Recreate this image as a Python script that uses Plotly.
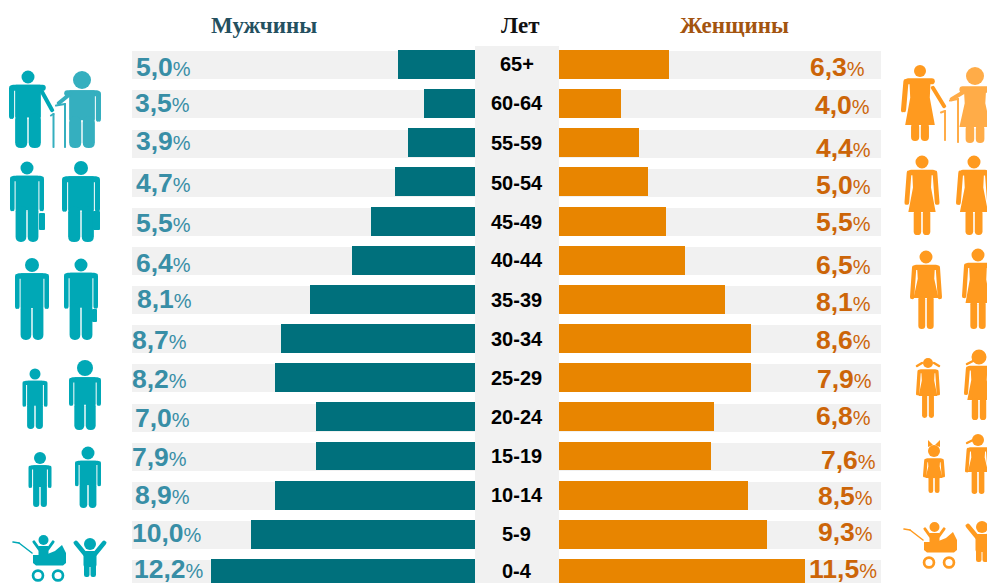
import plotly.graph_objects as go

W, H = 987, 583

# ---------- data ----------
age_groups = ["65+", "60-64", "55-59", "50-54", "45-49", "40-44", "35-39",
              "30-34", "25-29", "20-24", "15-19", "10-14", "5-9", "0-4"]
male_labels = ["5,0", "3,5", "3,9", "4,7", "5,5", "6,4", "8,1",
               "8,7", "8,2", "7,0", "7,9", "8,9", "10,0", "12,2"]
female_labels = ["6,3", "4,0", "4,4", "5,0", "5,5", "6,5", "8,1",
                 "8,6", "7,9", "6,8", "7,6", "8,5", "9,3", "11,5"]
# drawn bar lengths (they differ from the printed labels)
male_bars = [3.58, 2.37, 3.12, 3.72, 4.84, 5.72, 7.67,
             9.02, 9.30, 7.40, 7.40, 9.30, 10.42, 12.28]
female_bars = [5.12, 2.88, 3.72, 4.14, 4.98, 5.86, 7.72,
               8.93, 8.93, 7.21, 7.07, 8.79, 9.67, 11.44]
title_male, title_age, title_female = "Мужчины", "Лет", "Женщины"

# ---------- layout constants ----------
MALE_L, MALE_R, FEM_L, FEM_R = 132, 475, 559, 881
PX_PER_UNIT = 21.5
ROW0, PITCH = 64.5, 39.15
MALE_LABEL_LEFT = [136, 135, 136, 136, 136, 136, 137, 132, 132, 135, 132, 135, 132, 134]
MALE_LABEL_MID = [67, 103, 141, 183, 223, 263, 299, 340, 379, 418, 457, 495, 533, 569]
FEM_LABEL_RIGHT = [865, 870, 871, 871, 871, 871, 871, 871, 872, 871, 876, 873, 873, 877]
FEM_LABEL_MID = [67, 105, 148, 185, 222, 265, 302, 340, 379, 416, 460, 496, 532, 569]
AGE_LABEL_MID = [64, 103, 143, 183, 222, 260, 300, 339, 378, 417, 456, 495, 534, 571]

C_MALE, C_FEM = "#00707C", "#E88500"
C_STRIP = "#F1F1F1"
C_MALE_TXT, C_FEM_TXT = "#388EA6", "#CC6508"
C_MI, C_MI2 = "#00A8B6", "#35AFBF"
C_FI, C_FI2 = "#FF9A1F", "#FFAC48"

rows = list(range(len(age_groups)))
strip_rows = [r + 0.02 for r in rows]

fig = go.Figure()
fig.add_bar(y=strip_rows, x=[(MALE_R - MALE_L) / PX_PER_UNIT] * len(rows), orientation="h",
            width=0.715, marker=dict(color=C_STRIP, line_width=0), xaxis="x", yaxis="y", hoverinfo="skip")
fig.add_bar(y=strip_rows, x=[(FEM_R - FEM_L) / PX_PER_UNIT] * len(rows), orientation="h",
            width=0.715, marker=dict(color=C_STRIP, line_width=0), xaxis="x2", yaxis="y", hoverinfo="skip")
fig.add_bar(y=rows, x=male_bars, orientation="h", width=0.74,
            marker=dict(color=C_MALE, line_width=0), xaxis="x", yaxis="y", name=title_male)
fig.add_bar(y=rows, x=female_bars, orientation="h", width=0.74,
            marker=dict(color=C_FEM, line_width=0), xaxis="x2", yaxis="y", name=title_female)


# ---------- pictogram helpers (pixel coordinates -> paper) ----------
shapes = []


def P(x, y):
    return f"{x / W:.5f},{1 - y / H:.5f}"


def add_path(d, color):
    shapes.append(dict(type="path", path=d, xref="paper", yref="paper",
                       fillcolor=color, line_width=0, layer="above"))


def poly(pts, color):
    add_path("M" + " L".join(P(x, y) for x, y in pts) + " Z", color)


def rrect(x0, y0, x1, y1, r, color):
    r = min(r, (x1 - x0) / 2, (y1 - y0) / 2)
    add_path(f"M{P(x0 + r, y0)} L{P(x1 - r, y0)} Q{P(x1, y0)} {P(x1, y0 + r)} "
             f"L{P(x1, y1 - r)} Q{P(x1, y1)} {P(x1 - r, y1)} L{P(x0 + r, y1)} "
             f"Q{P(x0, y1)} {P(x0, y1 - r)} L{P(x0, y0 + r)} Q{P(x0, y0)} {P(x0 + r, y0)} Z", color)


def disc(cx, cy, r, color):
    shapes.append(dict(type="circle", xref="paper", yref="paper",
                       x0=(cx - r) / W, x1=(cx + r) / W, y0=1 - (cy + r) / H, y1=1 - (cy - r) / H,
                       fillcolor=color, line_width=0, layer="above"))


def limb(x0, y0, x1, y1, w, color):
    """Slanted limb with rounded ends."""
    dx, dy = x1 - x0, y1 - y0
    n = (dx * dx + dy * dy) ** 0.5 or 1
    ux, uy = dx / n, dy / n
    nx, ny = -uy * w / 2, ux * w / 2
    ex, ey = ux * w * 0.65, uy * w * 0.65
    add_path(f"M{P(x0 + nx, y0 + ny)} L{P(x1 + nx, y1 + ny)} "
             f"Q{P(x1 + nx + ex, y1 + ny + ey)} {P(x1 + ex * .75, y1 + ey * .75)} "
             f"Q{P(x1 - nx + ex, y1 - ny + ey)} {P(x1 - nx, y1 - ny)} "
             f"L{P(x0 - nx, y0 - ny)} Q{P(x0 - nx - ex, y0 - ny - ey)} {P(x0 - ex * .75, y0 - ey * .75)} "
             f"Q{P(x0 + nx - ex, y0 + ny - ey)} {P(x0 + nx, y0 + ny)} Z", color)


def man(cx, hy, r, hw, bottom, color, skip="", arm_end=0.5):
    sh = hy + r + 1.2
    T = bottom - sh
    aw = max(3.6, hw * 0.27)
    tw = hw - aw - 1.0
    arm_y = sh + T * arm_end
    if "L" not in skip:
        limb(cx - hw + aw / 2, sh + aw * 0.7, cx - hw + aw / 2, arm_y, aw, color)
    if "R" not in skip:
        limb(cx + hw - aw / 2, sh + aw * 0.7, cx + hw - aw / 2, arm_y, aw, color)
    rrect(cx - hw + 1.2, sh, cx + hw - 1.2, sh + aw * 1.2, aw * 0.6, color)
    rrect(cx - tw, sh, cx + tw, sh + T * 0.52, 1.0, color)
    gap = 0.7
    lw = tw - gap
    rrect(cx - gap - lw, sh + T * 0.46, cx - gap, bottom, lw * 0.48, color)
    rrect(cx + gap, sh + T * 0.46, cx + gap + lw, bottom, lw * 0.48, color)
    disc(cx, hy, r, color)


def woman(cx, hy, r, hw, bottom, skirt, color, skip="", arm_end=0.5):
    sh = hy + r + 1.2
    T = bottom - sh
    aw = max(3.4, hw * 0.27)
    tw = hw * 0.56
    skw = hw * 0.78
    arm_y = sh + T * arm_end
    if "L" not in skip:
        limb(cx - hw * 0.74, sh + aw * 0.7, cx - hw + aw / 2, arm_y, aw, color)
    if "R" not in skip:
        limb(cx + hw * 0.74, sh + aw * 0.7, cx + hw - aw / 2, arm_y, aw, color)
    rrect(cx - hw * 0.78, sh, cx + hw * 0.78, sh + aw * 1.2, aw * 0.6, color)
    waist = sh + (skirt - sh) * 0.42
    poly([(cx - tw, sh + 1), (cx + tw, sh + 1), (cx + tw * 0.92, waist), (cx + skw, skirt),
          (cx - skw, skirt), (cx - tw * 0.92, waist)], color)
    lw = skw * 0.55
    gap = 0.8
    rrect(cx - gap - lw, skirt - 2, cx - gap, bottom, lw * 0.48, color)
    rrect(cx + gap, skirt - 2, cx + gap + lw, bottom, lw * 0.48, color)
    disc(cx, hy, r, color)


def cane(x, top, bottom, hx, color):
    rrect(x - 1, top, x + 1, bottom, 0.8, color)
    limb(x, top + 1, hx, top + 2.5, 2.0, color)


def stroller(x, y, color):
    """x,y = start of the pram handle."""
    limb(x, y, x + 6, y + 1, 1.5, color)
    limb(x + 6, y + 1, x + 19, y + 11, 1.5, color)
    poly([(x + 20, y + 13), (x + 32, y + 13), (x + 42, y + 9), (x + 49, y + 3), (x + 53, y + 11),
          (x + 53, y + 21), (x + 50, y + 23.5), (x + 23, y + 23.5), (x + 20, y + 21)], color)
    disc(x + 30.5, y - 2, 5, color)
    limb(x + 21, y, x + 26, y + 7, 3, color)
    limb(x + 40, y, x + 35, y + 7, 3, color)
    poly([(x + 25.5, y + 4), (x + 35.5, y + 4), (x + 35.5, y + 13), (x + 25.5, y + 13)], color)
    for wx in (x + 25, x + 45):
        disc(wx, y + 33.5, 6.3, color)
        disc(wx, y + 33.5, 3.6, "#FFFFFF")


def child_up(cx, hy, r, bottom, color, span=14):
    disc(cx, hy, r, color)
    sh = hy + r + 1
    limb(cx - 5, sh + 3, cx - span, sh - 8, 4.4, color)
    limb(cx + 5, sh + 3, cx + span, sh - 8, 4.4, color)
    rrect(cx - 6.5, sh, cx + 6.5, bottom - 10, 2, color)
    rrect(cx - 6, bottom - 16, cx - 0.5, bottom, 2.2, color)
    rrect(cx + 0.5, bottom - 16, cx + 6, bottom, 2.2, color)


# --- male pictograms
man(28, 77, 6.5, 19, 148, C_MI, skip="R")
limb(41, 90, 52, 110, 4, C_MI)
cane(53.5, 113, 148, 51, C_MI2)
man(82, 80, 9, 19, 148, C_MI2, skip="L")
limb(70, 94, 59, 103, 4, C_MI2)
cane(65, 103, 148, 56, C_MI2)
man(27, 168, 6.5, 17, 242, C_MI)
man(81, 168, 7, 19, 242, C_MI)
rrect(39, 213, 45, 230, 1, C_MI)
rrect(93, 211, 100, 230, 1, C_MI)
man(32, 265, 7, 17, 340, C_MI)
man(81, 265, 6.5, 17, 340, C_MI)
rrect(92, 309, 97, 322, 1, C_MI)
man(35, 374, 5.5, 12.5, 429, C_MI)
man(85, 368, 8, 16, 430, C_MI)
man(40, 458, 6, 11.5, 507, C_MI)
man(88, 453, 6.5, 13, 508, C_MI)
stroller(13, 542, C_MI)
child_up(90, 544, 6, 577, C_MI)

# --- female pictograms
woman(920, 71, 6, 19, 141, 125, C_FI, skip="R")
limb(933, 88, 944, 106, 4, C_FI)
cane(945, 110, 141, 941, C_FI2)
woman(975, 76, 9, 20, 143, 127, C_FI2, skip="L")
limb(967, 90, 952, 99, 4, C_FI2)
cane(958, 98, 143, 950, C_FI2)
woman(922, 162, 6.5, 17.5, 235, 212, C_FI)
woman(974, 162, 6.5, 18, 235, 212, C_FI)
woman(926, 257, 6.5, 16, 329, 298, C_FI)
woman(978, 255, 6.5, 16, 329, 303, C_FI)
woman(928, 363, 5, 12, 418, 396, C_FI)
limb(917, 366, 922, 363, 2.4, C_FI)
limb(939, 366, 934, 363, 2.4, C_FI)
woman(979, 357, 7.5, 15, 420, 400, C_FI)
limb(967, 364, 973, 361, 2.4, C_FI)
woman(934, 451, 6, 11, 493, 478, C_FI)
poly([(928, 440), (933, 445), (928, 447)], C_FI)
poly([(940, 440), (935, 445), (940, 447)], C_FI)
woman(978, 440, 6, 13, 494, 472, C_FI)
limb(967, 443, 973, 440, 2.2, C_FI)
stroller(904, 529, C_FI)
child_up(982, 527, 6, 562, C_FI)

# center column behind the age labels
shapes.insert(0, dict(type="rect", xref="paper", yref="paper", x0=MALE_R / W, x1=FEM_L / W,
                      y0=0, y1=1 - 46 / H, fillcolor=C_STRIP, line_width=0, layer="below"))

# ---------- text ----------
ann = []


def pct(v, small=20):
    return f'<b>{v}</b><span style="font-size:{small}px">%</span>'


for i, age in enumerate(age_groups):
    ann.append(dict(x=(MALE_R + FEM_L - 1) / 2 / W, y=1 - AGE_LABEL_MID[i] / H, xref="paper", yref="paper",
                    text=f"<b>{age}</b>", showarrow=False, xanchor="center", yanchor="middle",
                    font=dict(family="Liberation Sans", size=20, color="#000000")))
    ann.append(dict(x=MALE_LABEL_LEFT[i] / W, y=1 - MALE_LABEL_MID[i] / H, xref="paper", yref="paper",
                    text=pct(male_labels[i]), showarrow=False, xanchor="left", yanchor="middle",
                    font=dict(family="Liberation Sans", size=26.5, color=C_MALE_TXT), borderpad=0, borderwidth=0))
    ann.append(dict(x=FEM_LABEL_RIGHT[i] / W, y=1 - FEM_LABEL_MID[i] / H, xref="paper", yref="paper",
                    text=pct(female_labels[i]), showarrow=False, xanchor="right", yanchor="middle",
                    font=dict(family="Liberation Sans", size=26.5, color=C_FEM_TXT), borderpad=0, borderwidth=0))

for txt, xc, col in ((title_male, 264, "#24505F"), (title_age, 520, "#111111"), (title_female, 734, "#A3540F")):
    ann.append(dict(x=xc / W, y=1 - 25.5 / H, xref="paper", yref="paper", text=f"<b>{txt}</b>",
                    showarrow=False, xanchor="center", yanchor="middle",
                    font=dict(family="Liberation Serif", size=23, color=col)))

fig.update_layout(
    width=W, height=H, margin=dict(l=0, r=0, t=0, b=0), showlegend=False,
    paper_bgcolor="#FFFFFF", plot_bgcolor="#FFFFFF", barmode="overlay", bargap=0,
    xaxis=dict(domain=[MALE_L / W, MALE_R / W], range=[(MALE_R - MALE_L) / PX_PER_UNIT, 0], visible=False),
    xaxis2=dict(domain=[FEM_L / W, FEM_R / W], range=[0, (FEM_R - FEM_L) / PX_PER_UNIT], visible=False, anchor="y"),
    yaxis=dict(domain=[0, 1], range=[(H - ROW0) / PITCH, -ROW0 / PITCH], visible=False, fixedrange=True),
    shapes=shapes, annotations=ann,
)

fig.write_html("out.html", config={"displayModeBar": False},
               post_script="document.body.style.margin='0';document.body.style.overflow='hidden';")
